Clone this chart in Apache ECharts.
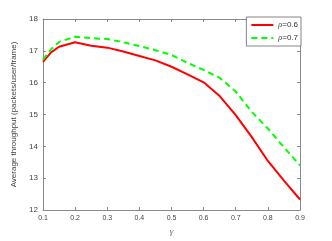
<!DOCTYPE html>
<html><head><meta charset="utf-8">
<script src="https://cdn.jsdelivr.net/npm/echarts@6/dist/echarts.min.js"></script>
<style>html,body{margin:0;padding:0;background:#fff}#c{width:332px;height:241px}</style>
</head><body><div id="c"></div>
<script>
const gamma = [0.10, 0.125, 0.15, 0.20, 0.25, 0.30, 0.35, 0.40, 0.45, 0.50, 0.55, 0.60, 0.65, 0.70, 0.75, 0.80, 0.85, 0.90];
const rho06 = [16.65, 16.95, 17.13, 17.27, 17.16, 17.10, 16.98, 16.84, 16.70, 16.50, 16.26, 16.01, 15.58, 14.98, 14.29, 13.54, 12.92, 12.33];
const rho07 = [16.72, 17.05, 17.28, 17.44, 17.40, 17.37, 17.27, 17.15, 17.02, 16.87, 16.62, 16.40, 16.15, 15.72, 15.08, 14.56, 13.97, 13.40];
const seriesNames = ['ρ=0.6', 'ρ=0.7'];

const axisCol = '#8a8a8a';
const labCol = '#444';
const chart = echarts.init(document.getElementById('c'));
const pair = (ys) => gamma.map((g, i) => [g, ys[i]]);
chart.setOption({
  animation: false,
  grid: {left: 43, right: 32, top: 19, bottom: 27},
  legend: {
    orient: 'vertical', right: 31, top: 17,
    data: seriesNames,
    itemWidth: 22, itemHeight: 8, itemGap: 5,
    padding: [4, 3, 4, 4],
    itemStyle: {opacity: 0},
    borderColor: '#666', borderWidth: 0.8, backgroundColor: '#fff',
    textStyle: {fontSize: 8, color: '#333', fontFamily: 'Liberation Sans',
      rich: {i: {fontStyle: 'italic', fontSize: 8, fontFamily: 'Liberation Serif'}}},
    formatter: (n) => n.replace('ρ', '{i|ρ}')
  },
  xAxis: [{
    type: 'value', min: 0.1, max: 0.9, interval: 0.1,
    name: 'γ', nameLocation: 'middle', nameGap: 17,
    nameTextStyle: {fontSize: 9, fontStyle: 'italic', color: '#666', fontFamily: 'Liberation Serif'},
    axisLine: {lineStyle: {color: axisCol, width: 1}},
    axisTick: {inside: true, length: 3, lineStyle: {color: axisCol}},
    axisLabel: {fontSize: 7, color: labCol, margin: 5, fontFamily: 'Liberation Sans', formatter: v => v.toFixed(1)},
    splitLine: {show: false}
  }, {
    type: 'value', position: 'top', min: 0.1, max: 0.9, interval: 0.1,
    axisLine: {show: true, lineStyle: {color: axisCol, width: 1}},
    axisTick: {show: true, inside: true, length: 3, lineStyle: {color: axisCol}},
    axisLabel: {show: false}, splitLine: {show: false}
  }],
  yAxis: [{
    type: 'value', min: 12, max: 18, interval: 1,
    name: 'Average throughput (packets/user/frame)', nameLocation: 'middle', nameGap: 18,
    nameTextStyle: {fontSize: 8, color: '#444', fontFamily: 'Liberation Sans'},
    axisLine: {show: true, lineStyle: {color: axisCol, width: 1}},
    axisTick: {show: true, inside: true, length: 3, lineStyle: {color: axisCol}},
    axisLabel: {fontSize: 8, color: labCol, margin: 5, fontFamily: 'Liberation Sans'},
    splitLine: {show: false}
  }, {
    type: 'value', position: 'right', min: 12, max: 18, interval: 1,
    axisLine: {show: true, lineStyle: {color: axisCol, width: 1}},
    axisTick: {show: true, inside: true, length: 3, lineStyle: {color: axisCol}},
    axisLabel: {show: false}, splitLine: {show: false}
  }],
  series: [{
    name: seriesNames[0], type: 'line', data: pair(rho06), showSymbol: false, symbol: 'none',
    lineStyle: {color: '#ff0000', width: 2}, itemStyle: {color: '#ff0000'}
  }, {
    name: seriesNames[1], type: 'line', data: pair(rho07), showSymbol: false, symbol: 'none',
    lineStyle: {color: '#00ff00', width: 2, type: [6, 4]}, itemStyle: {color: '#00ff00'}
  }]
});
</script></body></html>
